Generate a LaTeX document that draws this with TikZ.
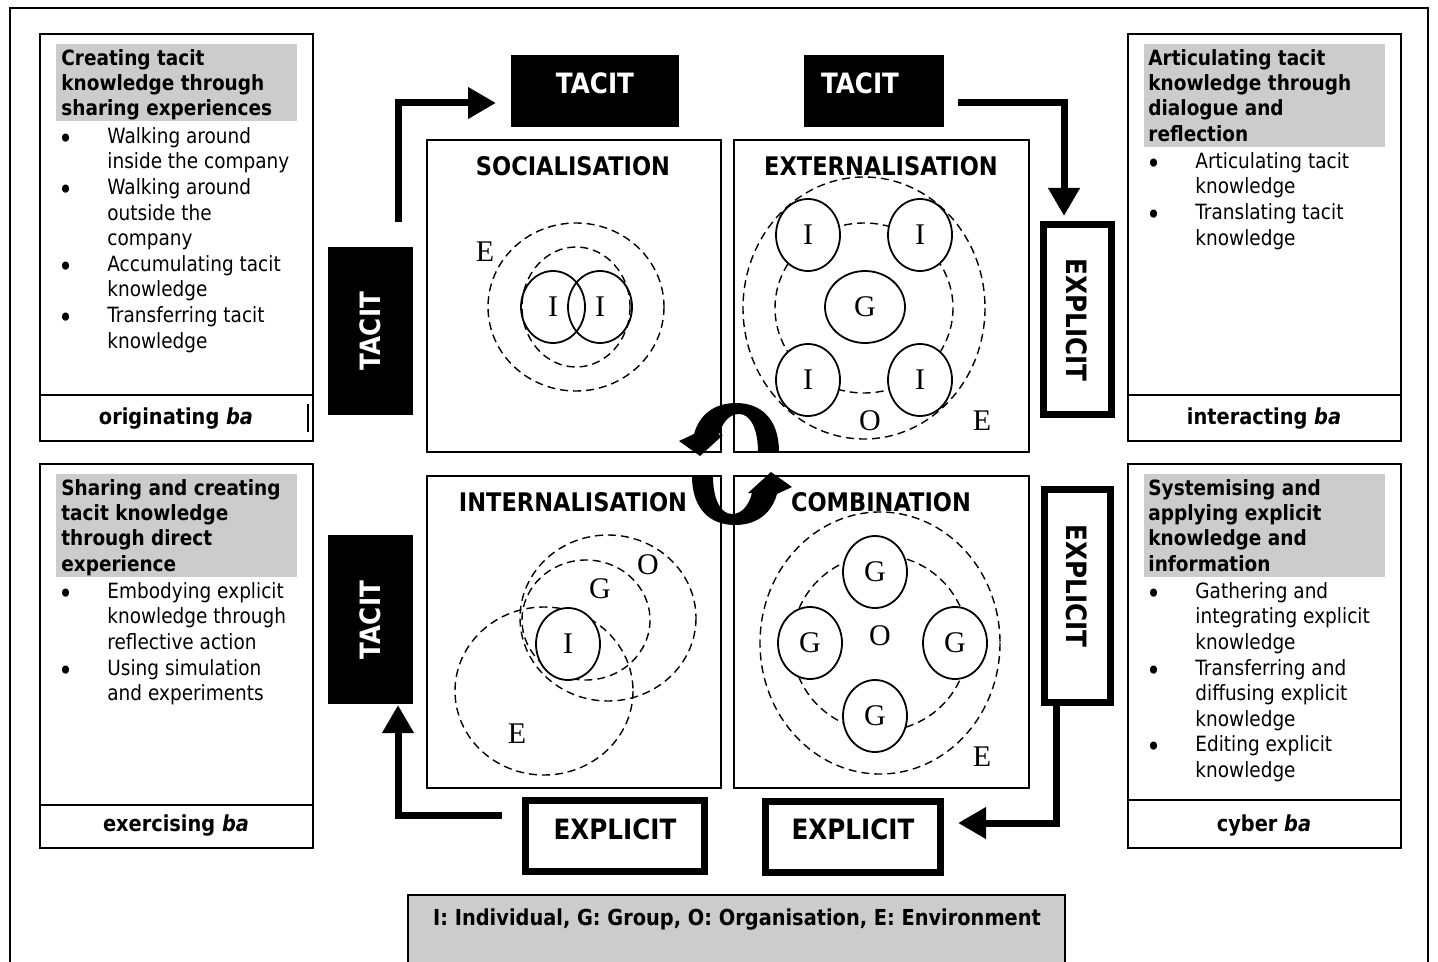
\documentclass[tikz,border=0pt]{standalone}
\usepackage{fontspec}
\setmainfont{DejaVu Sans}[FakeStretch=0.88]
\newfontfamily\lettersfont{Liberation Serif}
\usetikzlibrary{arrows.meta,shapes.geometric}

% bullet and continuation indent for the lists in the side panels
\newcommand{\bmark}{\makebox[24.5pt][l]{\raisebox{-2.5pt}{\fontsize{14}{12}\selectfont\textbullet}}}
\newcommand{\bcont}{\hspace*{24.5pt}}

\tikzset{
  panel/.style={draw, line width=0.75pt},
  baframe/.style={draw, line width=1.2pt},
  quad/.style={draw, line width=1pt},
  headfill/.style={fill=black!20},
  heading/.style={anchor=north west, inner sep=0, align=left,
    font=\bfseries\fontsize{10.5}{12.6}\selectfont},
  items/.style={anchor=north west, inner sep=0, align=left,
    font=\fontsize{10.5}{12.8}\selectfont},
  baname/.style={inner sep=0, font=\bfseries\fontsize{11}{12}\selectfont},
  keytext/.style={inner sep=0, font=\bfseries\fontsize{11}{12}\selectfont},
  qtitle/.style={inner sep=0, font=\bfseries\fontsize{12.8}{14}\selectfont},
  bigword/.style={inner sep=0, font=\bfseries\fontsize{14}{16}\selectfont},
  solidbox/.style={fill=black},
  openbox/.style={draw, line width=3.5pt, fill=white},
  flow/.style={line width=3.5pt, -{Triangle[length=14pt,width=15pt]}},
  member/.style={ellipse, draw, line width=0.9pt, inner sep=0,
    minimum width=32pt, minimum height=36pt,
    font=\lettersfont\fontsize{15}{15}\selectfont},
  zone/.style={draw, line width=0.7pt, dash pattern=on 4pt off 2.5pt},
  tag/.style={inner sep=0, font=\lettersfont\fontsize{15}{15}\selectfont},
}

% outline of one turning arrow in the centre
\newcommand{\turnshape}{%
  (779,452) .. controls (779,419) and (761,403) .. (736,403)
  .. controls (713,403) and (699,416) .. (694,434)
  -- (679,441) -- (700,456) -- (723,435) -- (719,435)
  .. controls (722,423) and (729,414) .. (739,414)
  .. controls (751,414) and (758,430) .. (758,452) -- cycle}

\begin{document}
\begin{tikzpicture}[x=0.5pt,y=-0.5pt]
\useasboundingbox (0,0) rectangle (1438,962);
\fill[white] (0,0) rectangle (1438,962);

% outer frame (runs off the bottom of the page)
\draw[line width=0.75pt] (10,990) -- (10,8) -- (1428,8) -- (1428,990);

% ---------- side panels ----------
% originating ba
\fill[headfill] (56,44) rectangle (297,121);
\draw[panel] (40,34) rectangle (313,441);
\draw[baframe] (40,395) rectangle (313,441);
\draw[line width=1pt] (308,404) -- (308,432);
\node[heading] (hTL) at (61,47.4) {\strut Creating tacit\\knowledge through\\sharing experiences};
\node[items] (iTL) at (58,125) {\strut\bmark Walking around\\\bcont inside the company\\\bmark Walking around\\\bcont outside the\\\bcont company\\\bmark Accumulating tacit\\\bcont knowledge\\\bmark Transferring tacit\\\bcont knowledge};
\node[baname] (bTL) at (176,419) {originating \textit{ba}};

% interacting ba
\fill[headfill] (1144,44) rectangle (1385,147);
\draw[panel] (1128,34) rectangle (1401,441);
\draw[baframe] (1128,395) rectangle (1401,441);
\node[heading] (hTR) at (1148,47.4) {\strut Articulating tacit\\knowledge through\\dialogue and\\reflection};
\node[items] (iTR) at (1146,150) {\strut\bmark Articulating tacit\\\bcont knowledge\\\bmark Translating tacit\\\bcont knowledge};
\node[baname] (bTR) at (1264,419) {interacting \textit{ba}};

% exercising ba
\fill[headfill] (56,474) rectangle (297,577);
\draw[panel] (40,464) rectangle (313,848);
\draw[baframe] (40,805) rectangle (313,848);
\node[heading] (hBL) at (61,477.4) {\strut Sharing and creating\\tacit knowledge\\through direct\\experience};
\node[items] (iBL) at (58,580) {\strut\bmark Embodying explicit\\\bcont knowledge through\\\bcont reflective action\\\bmark Using simulation\\\bcont and experiments};
\node[baname] (bBL) at (176,826) {exercising \textit{ba}};

% cyber ba
\fill[headfill] (1144,474) rectangle (1385,577);
\draw[panel] (1128,464) rectangle (1401,848);
\draw[baframe] (1128,800) rectangle (1401,848);
\node[heading] (hBR) at (1148,477.4) {\strut Systemising and\\applying explicit\\knowledge and\\information};
\node[items] (iBR) at (1146,580) {\strut\bmark Gathering and\\\bcont integrating explicit\\\bcont knowledge\\\bmark Transferring and\\\bcont diffusing explicit\\\bcont knowledge\\\bmark Editing explicit\\\bcont knowledge};
\node[baname] (bBR) at (1264,826) {cyber \textit{ba}};

% ---------- four modes ----------
\draw[quad] (427,140) rectangle (721,452);
\draw[quad] (734,140) rectangle (1029,452);
\draw[quad] (427,476) rectangle (721,788);
\draw[quad] (734,476) rectangle (1029,788);
\node[qtitle] (tSoc) at (573,166) {SOCIALISATION};
\node[qtitle] (tExt) at (881,166) {EXTERNALISATION};
\node[qtitle] (tInt) at (573,502) {INTERNALISATION};
\node[qtitle] (tCom) at (881,502) {COMBINATION};

% socialisation
\draw[zone] (576,307) ellipse [x radius=88, y radius=84];
\draw[zone] (576,307) ellipse [x radius=54, y radius=60];
\node[member] (sI1) at (553,307) {I};
\node[member] (sI2) at (600,307) {I};
\node[tag] (sE) at (485,252) {E};

% externalisation
\draw[zone] (864,308) ellipse [x radius=121, y radius=131];
\draw[zone] (864,308) ellipse [x radius=89, y radius=85];
\node[member, fill=white] (xI1) at (808,235) {I};
\node[member, fill=white] (xI2) at (920,235) {I};
\node[member, fill=white] (xI3) at (808,380) {I};
\node[member, fill=white] (xI4) at (920,380) {I};
\node[member, fill=white, minimum width=40pt] (xG) at (865,307) {G};
\node[tag] (xO) at (870,421) {O};
\node[tag] (xE) at (982,421) {E};

% internalisation
\draw[zone] (544,691) ellipse [x radius=89, y radius=84];
\draw[zone] (608,618) ellipse [x radius=88, y radius=83];
\draw[zone] (586,620) ellipse [x radius=64, y radius=60];
\node[member, fill=white] (nI) at (568,644) {I};
\node[tag] (nO) at (648,565) {O};
\node[tag] (nG) at (600,589) {G};
\node[tag] (nE) at (517,734) {E};

% combination
\draw[zone] (880,643) ellipse [x radius=120, y radius=131];
\draw[zone] (880,643) ellipse [x radius=88, y radius=88];
\node[member, fill=white] (cG1) at (875,572) {G};
\node[member, fill=white] (cG2) at (810,643) {G};
\node[member, fill=white] (cG3) at (955,643) {G};
\node[member, fill=white] (cG4) at (875,716) {G};
\node[tag] (cO) at (880,636) {O};
\node[tag] (cE) at (982,757) {E};

% ---------- turning arrows in the centre ----------
\fill \turnshape;
\begin{scope}[rotate around={180:(735.5,464)}]
  \fill \turnshape;
\end{scope}

% ---------- tacit / explicit labels ----------
\fill[solidbox] (511,55) rectangle (679,127);
\node[bigword, text=white] (tacA) at (595,83) {TACIT};
\fill[solidbox] (804,55) rectangle (944,127);
\node[bigword, text=white] (tacB) at (860,83) {TACIT};
\fill[solidbox] (328,247) rectangle (413,415);
\node[bigword, text=white, rotate=90] (tacC) at (370,331) {TACIT};
\fill[solidbox] (328,535) rectangle (413,704);
\node[bigword, text=white, rotate=90] (tacD) at (370,620) {TACIT};

\draw[openbox] (1043.5,224.5) rectangle (1111.5,414.5);
\node[bigword, rotate=-90] (expA) at (1077,320) {EXPLICIT};
\draw[openbox] (1044.5,489.5) rectangle (1110.5,702.5);
\node[bigword, rotate=-90] (expB) at (1077,586) {EXPLICIT};
\draw[openbox] (525.5,800.5) rectangle (704.5,871.5);
\node[bigword] (expC) at (615,829) {EXPLICIT};
\draw[openbox] (765.5,801.5) rectangle (940.5,872.5);
\node[bigword] (expD) at (853,829) {EXPLICIT};

% ---------- flow arrows ----------
\coordinate (f1s) at (398,222);
\coordinate (f1e) at (496,103);
\coordinate (f2s) at (958,103);
\coordinate (f2e) at (1064,216);
\coordinate (f3s) at (502,815);
\coordinate (f3e) at (398,705);
\coordinate (f4s) at (1056,705);
\coordinate (f4e) at (958,823);
\draw[flow] (f1s) |- (f1e);
\draw[flow] (f2s) -| (f2e);
\draw[flow] (f3s) -| (f3e);
\draw[flow] (f4s) |- (f4e);

% ---------- key ----------
\draw[line width=0.75pt, fill=black!20] (408,895) rectangle (1065,990);
\node[keytext] (key) at (737,920) {I: Individual, G: Group, O: Organisation, E: Environment};
\end{tikzpicture}
\end{document}
